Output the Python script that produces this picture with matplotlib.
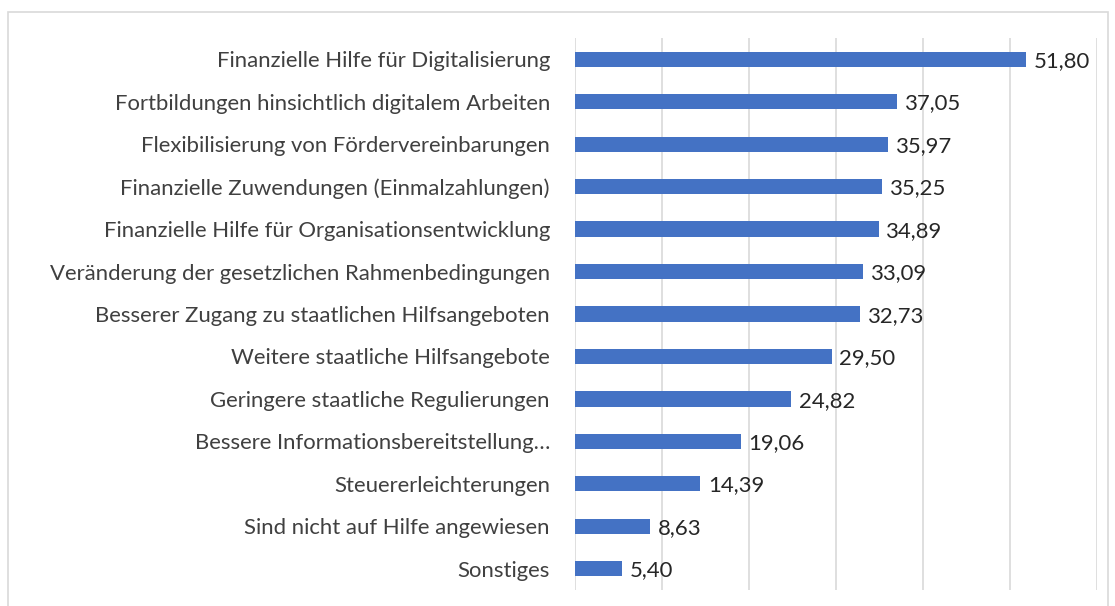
import matplotlib
matplotlib.use("Agg")
import matplotlib.pyplot as plt
from matplotlib.patches import Rectangle

categories = [
    "Finanzielle Hilfe für Digitalisierung",
    "Fortbildungen hinsichtlich digitalem Arbeiten",
    "Flexibilisierung von Fördervereinbarungen",
    "Finanzielle Zuwendungen (Einmalzahlungen)",
    "Finanzielle Hilfe für Organisationsentwicklung",
    "Veränderung der gesetzlichen Rahmenbedingungen",
    "Besserer Zugang zu staatlichen Hilfsangeboten",
    "Weitere staatliche Hilfsangebote",
    "Geringere staatliche Regulierungen",
    "Bessere Informationsbereitstellung…",
    "Steuererleichterungen",
    "Sind nicht auf Hilfe angewiesen",
    "Sonstiges",
]
values = [51.80, 37.05, 35.97, 35.25, 34.89, 33.09, 32.73, 29.50, 24.82, 19.06, 14.39, 8.63, 5.40]
xticks = [0, 10, 20, 30, 40, 50, 60]

plt.rcParams['font.family'] = ['Lato', 'DejaVu Sans']

fig = plt.figure(figsize=(11.15, 6.06), dpi=100)
ax = fig.add_axes([575/1115, 1-590/606, (1097-575)/1115, (590-38)/606])

ypos = list(range(len(categories)))
ax.barh(ypos, values, height=0.36, color="#4472C4", zorder=3)
ax.set_ylim(len(categories)-0.5, -0.5)
ax.set_xlim(0, 60)
ax.set_xticks(xticks)
ax.xaxis.grid(True, color="#D9D9D9", linewidth=1.2, zorder=0)
ax.set_xticklabels([])
ax.tick_params(axis='x', length=0)
ax.set_yticks(ypos)
ax.set_yticklabels(categories, fontsize=15.9, color="#404040")
ax.tick_params(axis='y', length=0, pad=18)
for s in ax.spines.values():
    s.set_visible(False)

for y, v in zip(ypos, values):
    ax.text(v + 0.9, y + 0.04, f"{v:.2f}".replace(".", ","), va='center', ha='left',
            fontsize=15.9, color="#262626")

fig.patches.append(Rectangle((8/1115, -0.02), 1100/1115, 1 - 12/606 + 0.02,
                             transform=fig.transFigure, fill=False,
                             edgecolor="#D9D9D9", linewidth=1.2))

fig.savefig("out.png", dpi=100)
